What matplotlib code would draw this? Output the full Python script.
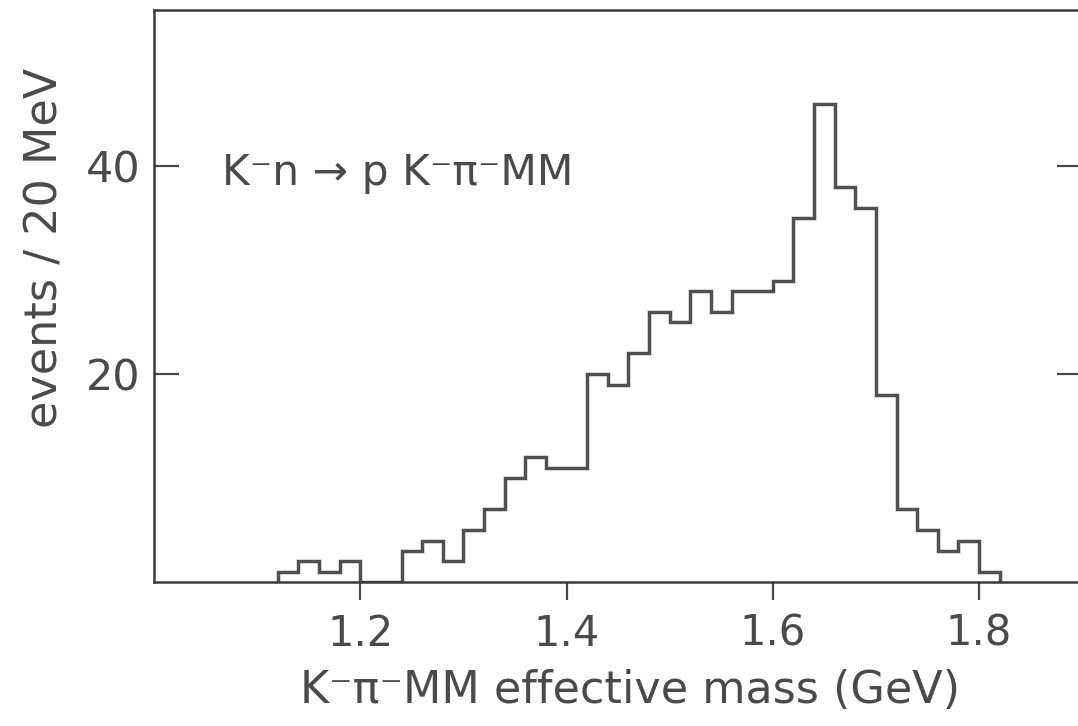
import numpy as np
import matplotlib.pyplot as plt

# K- pi- MM effective mass, 20 MeV bins starting at 1.12 GeV
bin_edges = np.round(np.arange(1.12, 1.8201, 0.02), 2)
counts = [1, 2, 1, 2, 0, 0, 3, 4, 2, 5, 7, 10, 12, 11, 11, 20, 19, 22, 26, 25,
          28, 26, 28, 28, 29, 35, 46, 38, 36, 18, 7, 5, 3, 4, 1]
x_ticks = [1.2, 1.4, 1.6, 1.8]
y_ticks = [20, 40]

ink = '#4a4a4a'
plt.rcParams['font.family'] = ['DejaVu Sans']

fig = plt.figure(figsize=(10.78, 7.26), dpi=100)
ax = fig.add_axes([0.1429, 0.198, 0.861, 0.788])

ax.stairs(counts, bin_edges, baseline=0, color='#505050', linewidth=2.5)

ax.set_xlim(1.0, 1.9)
ax.set_ylim(0, 55)
ax.set_xticks(x_ticks)
ax.set_xticklabels([f'{v:.1f}' for v in x_ticks])
ax.set_yticks(y_ticks)

for s in ax.spines.values():
    s.set_color('#3a3a3a')
    s.set_linewidth(1.8)

ax.tick_params(axis='x', direction='out', length=13, width=1.6, pad=9,
               labelsize=30, colors=ink)
ax.tick_params(axis='y', direction='in', length=18, width=1.6, pad=10,
               labelsize=31, colors=ink, right=True)

ax.text(1.066, 39.3, 'K\u207bn \u2192 p K\u207b\u03c0\u207bMM', fontsize=30.5,
        color=ink, va='center', ha='left')

ax.set_xlabel('K\u207b\u03c0\u207bMM effective mass (GeV)', fontsize=32, color=ink)
ax.xaxis.set_label_coords(0.513, -0.152)
ax.set_ylabel('events / 20 MeV', fontsize=32, color=ink)
ax.yaxis.set_label_coords(-0.094, 0.585)

fig.savefig('out.png', dpi=100)
